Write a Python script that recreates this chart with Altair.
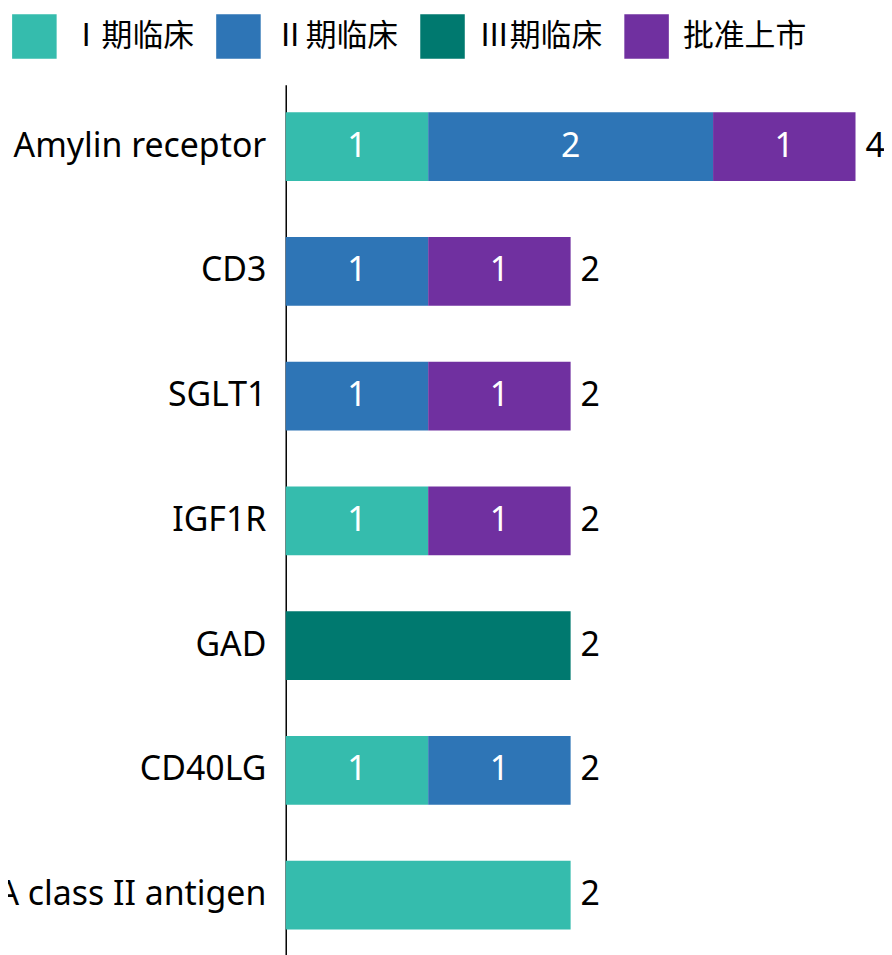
import altair as alt
import pandas as pd

categories = ["Amylin receptor", "CD3", "SGLT1", "IGF1R", "GAD", "CD40LG", "HLA class II antigen"]
phases = ["Ⅰ期临床", "Ⅱ期临床", "Ⅲ期临床", "批准上市"]
colors = ["#35BCAD", "#2E75B6", "#00796F", "#7030A0"]

# values per phase for each category (same order as categories)
phase1 = [1, 0, 0, 1, 0, 1, 2]
phase2 = [2, 1, 1, 0, 0, 1, 0]
phase3 = [0, 0, 0, 0, 2, 0, 0]
approved = [1, 1, 1, 1, 0, 0, 0]
# whether the inner value label is shown
show_inner = [True, True, True, True, False, True, False]

series = [phase1, phase2, phase3, approved]
rows = []
for ci, cat in enumerate(categories):
    start = 0
    for pi, ph in enumerate(phases):
        v = series[pi][ci]
        if v > 0:
            rows.append({
                "category": cat, "phase": ph, "order": pi, "value": v,
                "start": start, "end": start + v, "mid": start + v / 2,
                "label": str(v) if show_inner[ci] else "",
            })
            start += v
df = pd.DataFrame(rows)
totals = pd.DataFrame({
    "category": categories,
    "total": [sum(s[i] for s in series) for i in range(len(categories))],
})
totals["tlabel"] = totals["total"].astype(str)

FONT = "Noto Sans"
W, H = 601, 876

xscale = alt.Scale(domain=[0, 4.2], nice=False, zero=True)
yscale = alt.Scale(domain=categories, paddingInner=0.45, paddingOuter=0.22)

bars = alt.Chart(df).mark_bar().encode(
    y=alt.Y("category:N", scale=yscale, sort=categories,
            axis=alt.Axis(title=None, ticks=False, domain=True, domainColor="#000000",
                          domainWidth=1.5, labelFont=FONT, labelFontSize=34,
                          labelColor="#000000", labelPadding=20, labelLimit=0)),
    x=alt.X("start:Q", scale=xscale, axis=None),
    x2="end:Q",
    color=alt.Color("phase:N", scale=alt.Scale(domain=phases, range=colors),
                    legend=alt.Legend(title=None, orient="none", direction="horizontal",
                                      legendX=-275, legendY=-71,
                                      symbolType="square", symbolSize=2000,
                                      symbolStrokeWidth=0, labelFont="Noto Sans CJK SC",
                                      labelFontSize=31, labelColor="#000000",
                                      labelOffset=14, columnPadding=22,
                                      symbolOpacity=1)),
)

inner = alt.Chart(df).mark_text(color="white", font=FONT, fontSize=34,
                                baseline="middle", align="center").encode(
    y=alt.Y("category:N", scale=yscale, sort=categories),
    x=alt.X("mid:Q", scale=xscale),
    text="label:N",
)

tot = alt.Chart(totals).mark_text(color="#000000", font=FONT, fontSize=34,
                                  baseline="middle", align="left", dx=10).encode(
    y=alt.Y("category:N", scale=yscale, sort=categories),
    x=alt.X("total:Q", scale=xscale),
    text="tlabel:N",
)

chart = alt.layer(bars, inner, tot).properties(
    width=W, height=H,
    autosize=alt.AutoSizeParams(type="none"),
    padding={"left": 279, "top": 75, "right": 0, "bottom": 0},
).configure_view(stroke=None).configure_axis(grid=False)

chart.save("out.html", embed_options={"renderer": "svg", "actions": False})
